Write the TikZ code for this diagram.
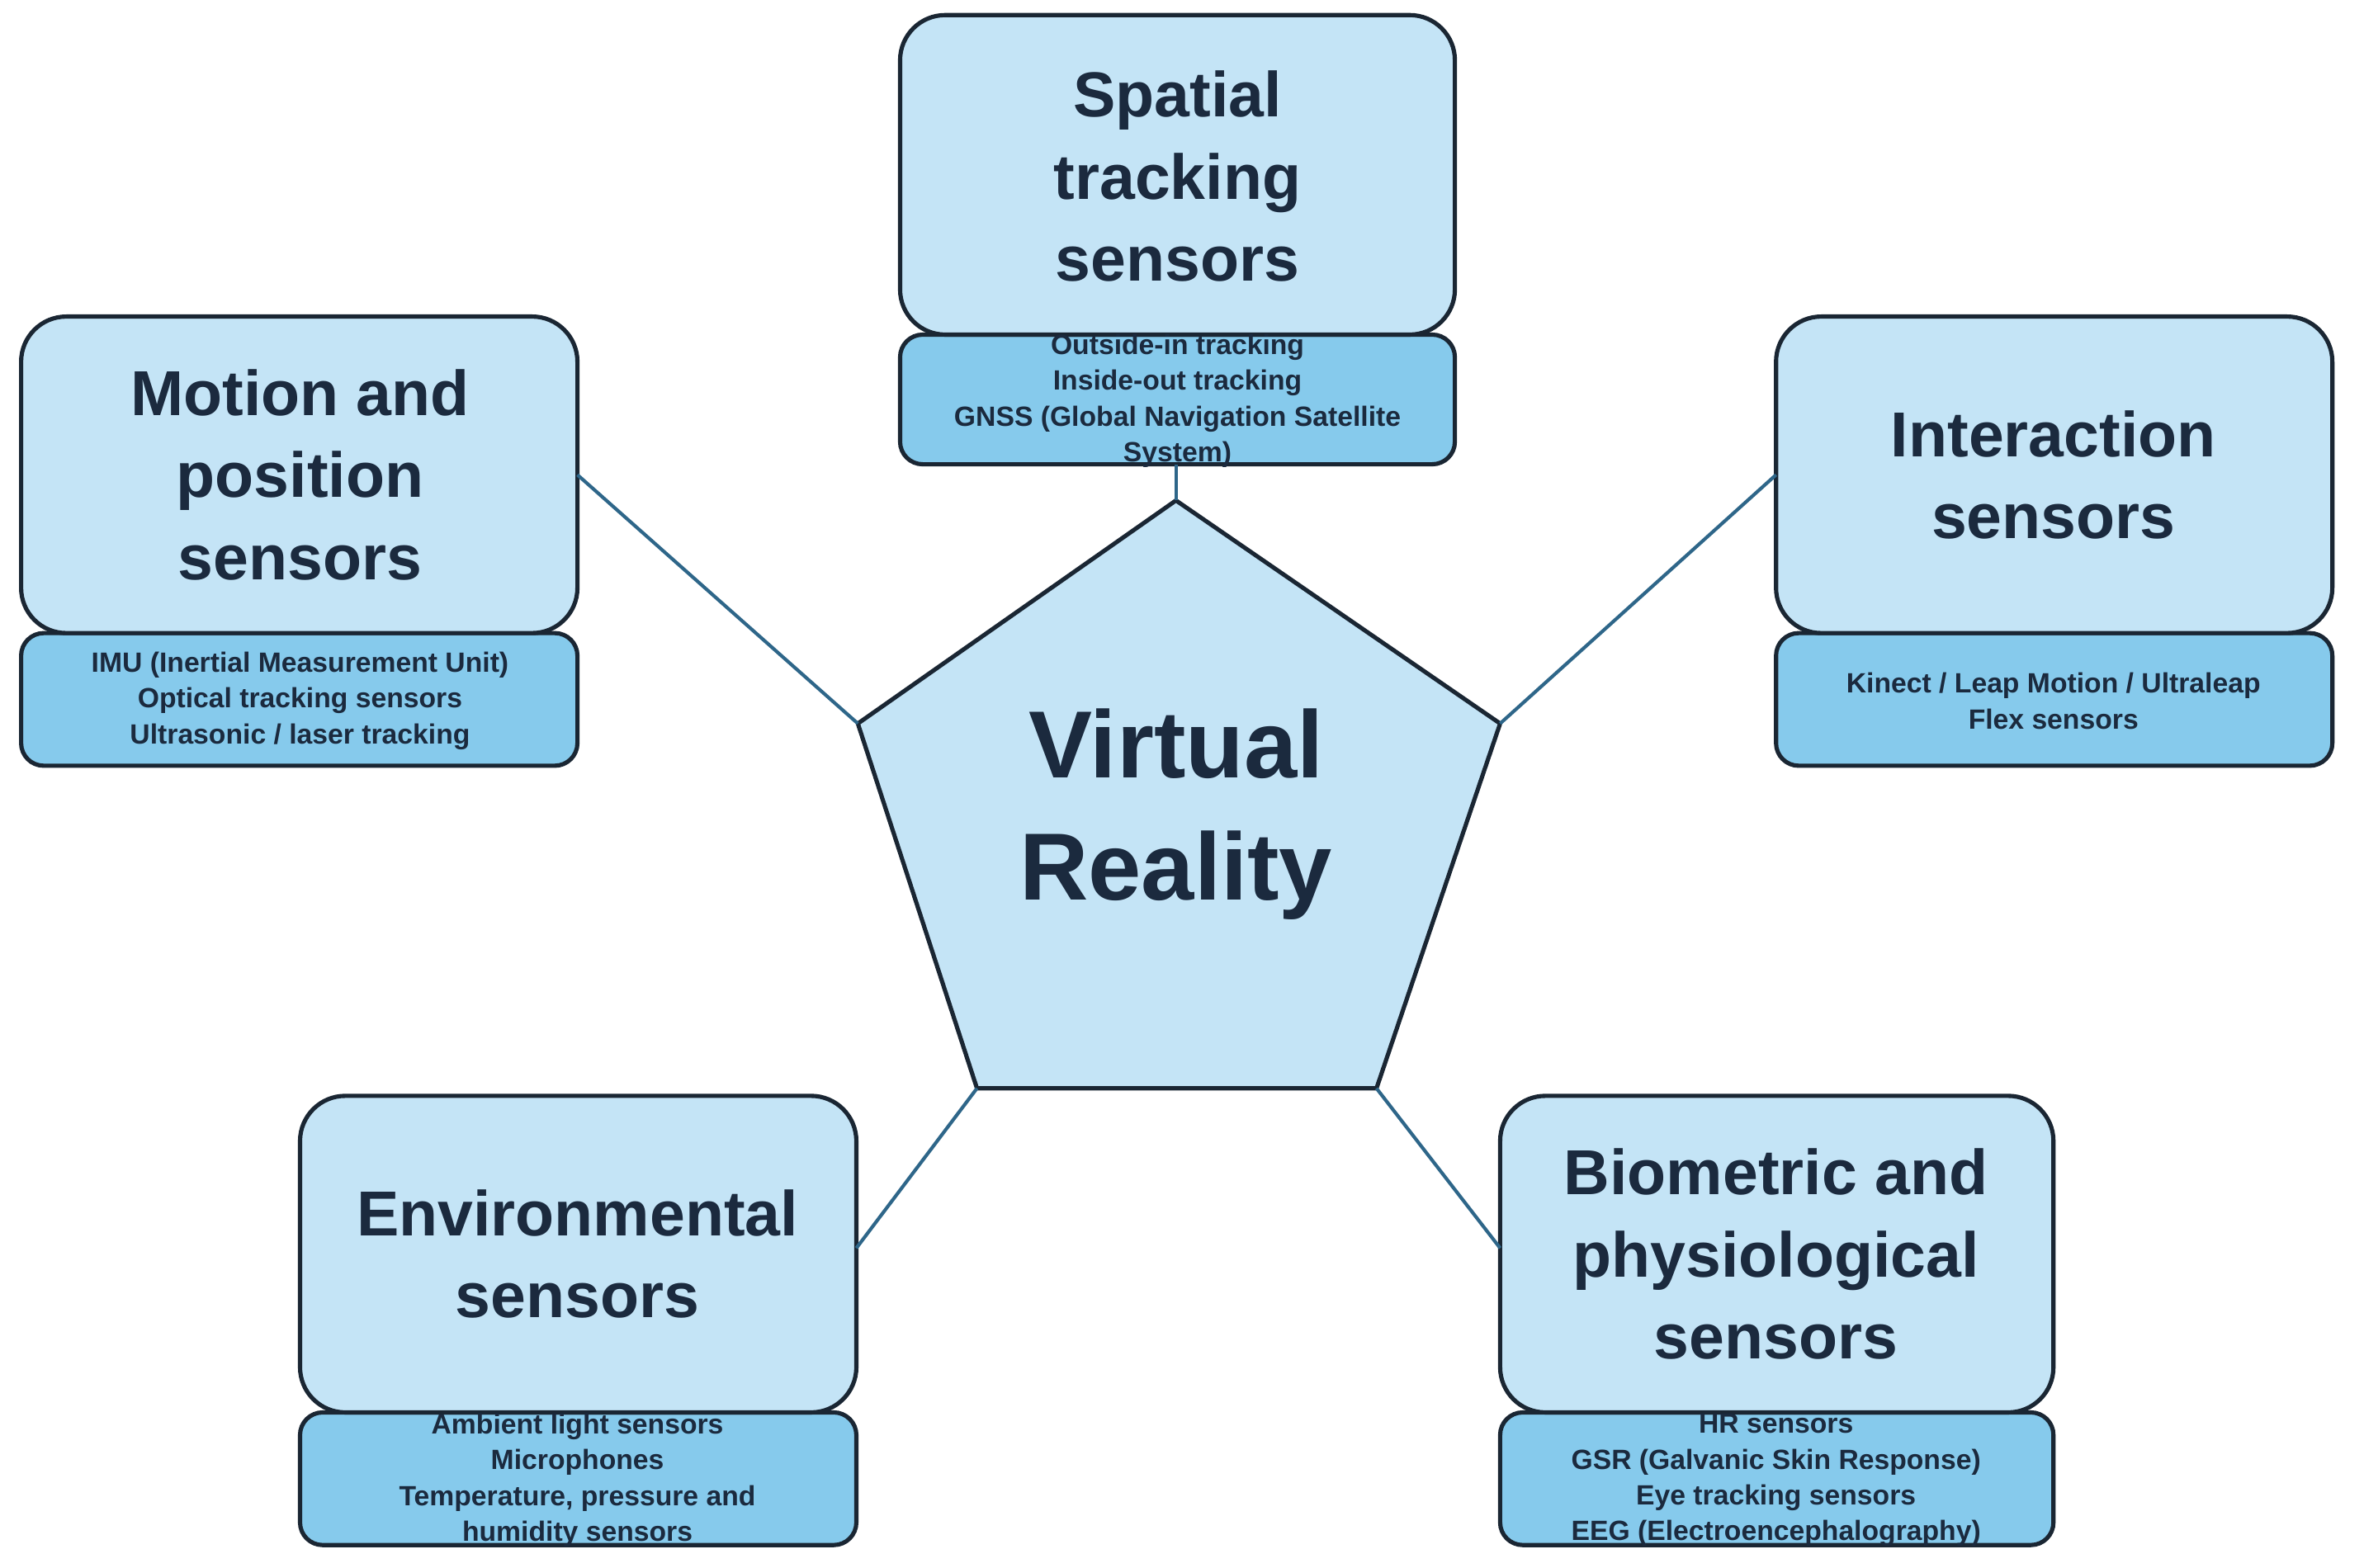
\documentclass[tikz,border=0pt]{standalone}
\usepackage{fontspec}
\setmainfont{Liberation Sans}
\begin{document}
\begin{tikzpicture}[x=0.02cm,y=-0.02cm,
  txt/.style={text=navy},
  big/.style={draw=edge,line width=1.6pt,fill=light,rounded corners=0.6cm},
  sub/.style={draw=edge,line width=1.6pt,fill=mid,rounded corners=0.3cm},
  title/.style={font=\bfseries\fontsize{24}{31}\selectfont,text=navy,align=center},
  items/.style={font=\bfseries\fontsize{10.5}{13.5}\selectfont,text=navy,align=center},
  link/.style={draw=linkc,line width=1.3pt}]
\definecolor{light}{HTML}{C4E4F6}
\definecolor{mid}{HTML}{86CAEC}
\definecolor{edge}{HTML}{1A2633}
\definecolor{navy}{HTML}{1B2A3E}
\definecolor{linkc}{HTML}{2E6689}
\useasboundingbox (0,0) rectangle (1568,1040);
% pentagon
\coordinate (pt) at (780,332);
\coordinate (pr) at (995,480);
\coordinate (pbr) at (913,722);
\coordinate (pbl) at (648,722);
\coordinate (pl) at (569,480);
\draw[edge,line width=1.6pt,fill=light,line join=round] (pt)--(pr)--(pbr)--(pbl)--(pl)--cycle;
\node[font=\bfseries\fontsize{36}{46}\selectfont,text=navy,align=center] (vr) at (780,540) {Virtual\\Reality};
% Spatial
\draw[sub] (597,222) rectangle (965,308);
\draw[big] (597,10) rectangle (965,222);
\node[title] (sp) at (781,117) {Spatial\\tracking\\sensors};
\node[items] (spi) at (781,266) {Outside-in tracking\\Inside-out tracking\\GNSS (Global Navigation Satellite\\System)};
\coordinate (spb) at (780,308);
% Motion
\draw[sub] (14,420) rectangle (383,508);
\draw[big] (14,210) rectangle (383,420);
\node[title] (mo) at (199,315) {Motion and\\position\\sensors};
\node[items] (moi) at (199,465) {IMU (Inertial Measurement Unit)\\Optical tracking sensors\\Ultrasonic / laser tracking};
\coordinate (mor) at (383,315);
% Interaction
\draw[sub] (1178,420) rectangle (1547,508);
\draw[big] (1178,210) rectangle (1547,420);
\node[title] (in) at (1362,315) {Interaction\\sensors};
\node[items] (ini) at (1362,465) {Kinect / Leap Motion / Ultraleap\\Flex sensors};
\coordinate (inl) at (1178,315);
% Environmental
\draw[sub] (199,937) rectangle (568,1025);
\draw[big] (199,727) rectangle (568,937);
\node[title] (en) at (383,832) {Environmental\\sensors};
\node[items] (eni) at (383,982) {Ambient light sensors\\Microphones\\Temperature, pressure and\\humidity sensors};
\coordinate (enr) at (568,828);
% Biometric
\draw[sub] (995,937) rectangle (1362,1025);
\draw[big] (995,727) rectangle (1362,937);
\node[title] (bi) at (1178,832) {Biometric and\\physiological\\sensors};
\node[items] (bii) at (1178,982) {HR sensors\\GSR (Galvanic Skin Response)\\Eye tracking sensors\\EEG (Electroencephalography)};
\coordinate (bil) at (995,828);
% links
\draw[link] (spb)--(pt);
\draw[link] (mor)--(pl);
\draw[link] (inl)--(pr);
\draw[link] (enr)--(pbl);
\draw[link] (bil)--(pbr);
\end{tikzpicture}
\end{document}
